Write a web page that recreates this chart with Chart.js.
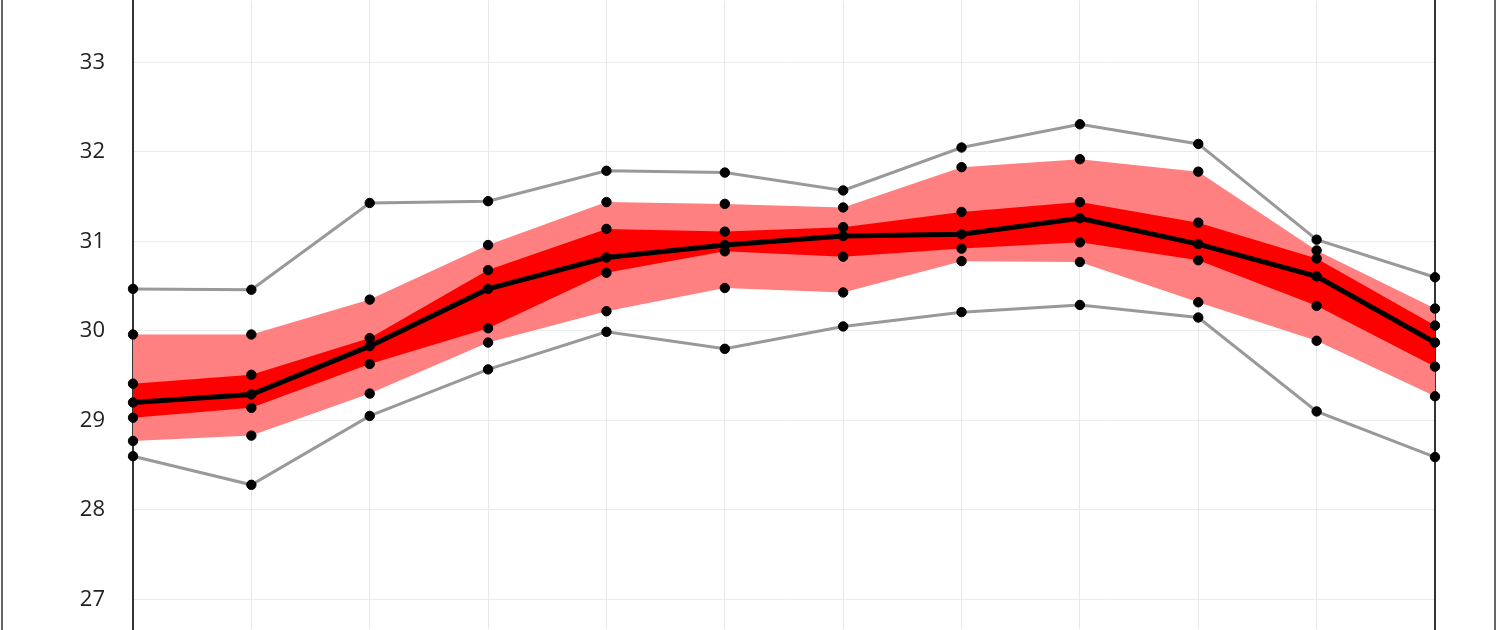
<!DOCTYPE html>
<html lang="en">
<head>
    <meta charset="UTF-8">
    <title>Band chart</title>
    <script src="https://cdn.jsdelivr.net/npm/chart.js"></script>
    <style>
        body {
            margin: 0;
            background-color: #ffffff;
            font-family: "Open Sans", Arial, sans-serif;
        }
        .wrap {
            position: relative;
            width: 1500px;
            height: 630px;
            overflow: hidden;
        }
        #chart {
            position: absolute;
            left: 0;
            top: -5px;
        }
        .frame {
            position: absolute;
            left: 1px;
            top: 0;
            width: 1491px;
            height: 630px;
            border-left: 2px solid #666;
            border-right: 2px solid #666;
            pointer-events: none;
        }
    </style>
</head>
<body>
    <div class="wrap">
        <canvas id="chart" width="1500" height="640"></canvas>
        <div class="frame"></div>
    </div>

    <script>
        // categories (not shown in the crop)
        var labels = ['Jan', 'Feb', 'Mar', 'Apr', 'May', 'Jun', 'Jul', 'Aug', 'Sep', 'Oct', 'Nov', 'Dec'];

        // y tick labels
        var yTicks = [27, 28, 29, 30, 31, 32, 33];

        // series
        var maxVals = [30.47, 30.46, 31.43, 31.45, 31.79, 31.77, 31.57, 32.05, 32.31, 32.09, 31.02, 30.60];
        var lightHi = [29.96, 29.96, 30.35, 30.96, 31.44, 31.42, 31.38, 31.83, 31.92, 31.78, 30.90, 30.25];
        var darkHi  = [29.41, 29.51, 29.92, 30.68, 31.14, 31.11, 31.16, 31.33, 31.44, 31.21, 30.81, 30.06];
        var meanVals = [29.20, 29.29, 29.83, 30.47, 30.82, 30.96, 31.06, 31.08, 31.26, 30.97, 30.61, 29.87];
        var darkLo  = [29.03, 29.14, 29.63, 30.03, 30.65, 30.89, 30.83, 30.92, 30.99, 30.79, 30.28, 29.60];
        var lightLo = [28.77, 28.83, 29.30, 29.87, 30.22, 30.48, 30.43, 30.78, 30.77, 30.32, 29.89, 29.27];
        var minVals = [28.60, 28.28, 29.05, 29.57, 29.99, 29.80, 30.05, 30.21, 30.29, 30.15, 29.10, 28.59];

        // visible y range (the picture is cropped at top and bottom)
        var yMin = 26.665;
        var yMax = 33.691;

        var dot = {
            pointRadius: 4.7,
            pointBackgroundColor: '#000',
            pointBorderColor: '#000',
            pointBorderWidth: 1,
            tension: 0
        };

        function band(data, color, fill, order) {
            return Object.assign({
                data: data,
                borderColor: 'rgba(0,0,0,0)',
                borderWidth: 0,
                backgroundColor: color,
                fill: fill,
                order: order
            }, dot);
        }

        function line(data, color, width, order) {
            return Object.assign({
                data: data,
                borderColor: color,
                borderWidth: width,
                fill: false,
                order: order
            }, dot);
        }

        // drop the automatic label padding so the plot runs off the top and bottom
        function noPad(scale) {
            scale.paddingTop = 0;
            scale.paddingBottom = 0;
        }

        var ctx = document.getElementById('chart').getContext('2d');
        new Chart(ctx, {
            type: 'line',
            data: {
                labels: labels,
                datasets: [
                    line(maxVals, '#999999', 3, 3),
                    band(lightHi, '#ff8080', '+1', 8),
                    band(lightLo, '#ff8080', false, 7),
                    band(darkHi, '#ff0000', '+1', 6),
                    band(darkLo, '#ff0000', false, 5),
                    line(meanVals, '#000000', 5, 1),
                    line(minVals, '#999999', 3, 3)
                ]
            },
            options: {
                responsive: false,
                devicePixelRatio: 1,
                animation: false,
                layout: { padding: { left: 0, right: 65, top: 0, bottom: 0 } },
                plugins: {
                    legend: { display: false },
                    tooltip: { enabled: false }
                },
                scales: {
                    x: {
                        offset: false,
                        grid: { color: '#e8e8e8', lineWidth: 1, drawTicks: false },
                        border: { display: false },
                        ticks: { display: false },
                        afterFit: function(scale) {
                            scale.height = 0;
                            scale.paddingLeft = 0;
                            scale.paddingRight = 0;
                        }
                    },
                    y: {
                        min: yMin,
                        max: yMax,
                        afterBuildTicks: function(scale) {
                            scale.ticks = yTicks.map(v => ({ value: v }));
                        },
                        afterFit: function(scale) {
                            scale.width = 133;
                            noPad(scale);
                        },
                        grid: { color: '#ececec', lineWidth: 1, drawTicks: false },
                        border: { color: '#333', width: 2 },
                        ticks: {
                            padding: 28,
                            color: '#222',
                            font: { family: '"Open Sans", Arial, sans-serif', size: 22 }
                        }
                    },
                    y2: {
                        position: 'right',
                        min: yMin,
                        max: yMax,
                        grid: { display: false, drawTicks: false },
                        border: { color: '#333', width: 2 },
                        ticks: { display: false },
                        afterFit: function(scale) {
                            scale.width = 0;
                            noPad(scale);
                        }
                    }
                }
            }
        });
    </script>
</body>
</html>
